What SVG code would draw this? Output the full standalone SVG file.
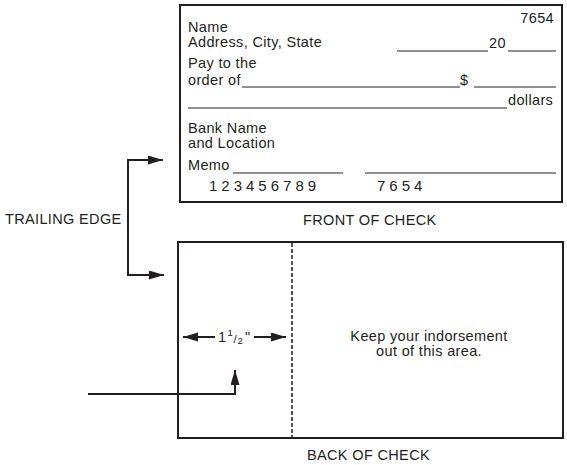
<svg xmlns="http://www.w3.org/2000/svg" width="567" height="465" viewBox="0 0 567 465">
<style>
.t{font-family:"Liberation Sans",Arial,sans-serif;font-size:14.5px;letter-spacing:0.35px;fill:#231f20}
.n{font-family:"Liberation Sans",Arial,sans-serif;font-size:15px;letter-spacing:4px;fill:#231f20}
.box{fill:#fff;stroke:#231f20;stroke-width:2}
.ul{stroke:#231f20;stroke-width:1.2;fill:none}
.c{stroke:#231f20;stroke-width:2;fill:none}
</style>
<defs>
<marker id="ah" markerUnits="userSpaceOnUse" markerWidth="16" markerHeight="10" refX="15" refY="4.5" orient="auto"><path d="M0,0 L15,4.5 L0,9 Z" fill="#231f20"/></marker>
</defs>
<rect width="567" height="465" fill="#fff"/>
<g id="front-check">
<rect class="box" x="180" y="5" width="382" height="197"/>
<text class="t" x="554" y="23" text-anchor="end">7654</text>
<text class="t" x="188" y="32">Name</text>
<text class="t" x="188" y="47">Address, City, State</text>
<line class="ul" x1="397" y1="51" x2="488" y2="51"/>
<text class="t" x="489" y="48">20</text>
<line class="ul" x1="508" y1="51" x2="556" y2="51"/>
<text class="t" x="188" y="68">Pay to the</text>
<text class="t" x="188" y="85">order of</text>
<line class="ul" x1="242" y1="87" x2="460" y2="87"/>
<text class="t" x="460" y="85">$</text>
<line class="ul" x1="474" y1="87" x2="556" y2="87"/>
<line class="ul" x1="188" y1="108" x2="507" y2="108"/>
<text class="t" x="508" y="105">dollars</text>
<text class="t" x="188" y="133">Bank Name</text>
<text class="t" x="188" y="148">and Location</text>
<text class="t" x="188" y="170">Memo</text>
<line class="ul" x1="233" y1="173" x2="343" y2="173"/>
<line class="ul" x1="365" y1="173" x2="556" y2="173"/>
<text class="n" x="209" y="191">123456789</text>
<text class="n" x="377" y="191">7654</text>
<text class="t" x="303" y="225">FRONT OF CHECK</text>
</g>
<g id="trailing-edge-label">
<text class="t" x="5" y="224">TRAILING EDGE</text>
</g>
<g id="back-check">
<rect class="box" x="178" y="242" width="385" height="196"/>
<line x1="292" y1="243" x2="292" y2="437" stroke="#231f20" stroke-width="1.5" stroke-dasharray="4,2"/>
<text class="t" x="429" y="341" text-anchor="middle">Keep your indorsement</text>
<text class="t" x="429" y="356" text-anchor="middle">out of this area.</text>
<text class="t" x="307" y="460">BACK OF CHECK</text>
</g>
<g id="dimension-label">
<text class="t" x="218" y="342">1<tspan x="227.5" y="336" style="font-size:9.5px;letter-spacing:0">1</tspan><tspan x="233.5" y="343" style="font-size:11px;letter-spacing:0">/</tspan><tspan x="237.5" y="344" style="font-size:9.5px;letter-spacing:0">2</tspan><tspan x="245" y="342">"</tspan></text>
</g>
<g id="connectors">
<path class="c" d="M128,218 V160 H163" marker-end="url(#ah)"/>
<path class="c" d="M128,218 V275 H164" marker-end="url(#ah)"/>
<path class="c" d="M215,337 H183" marker-end="url(#ah)"/>
<path class="c" d="M254,337 H286" marker-end="url(#ah)"/>
<path class="c" d="M88,394 H235 V370" marker-end="url(#ah)"/>
</g>
</svg>
